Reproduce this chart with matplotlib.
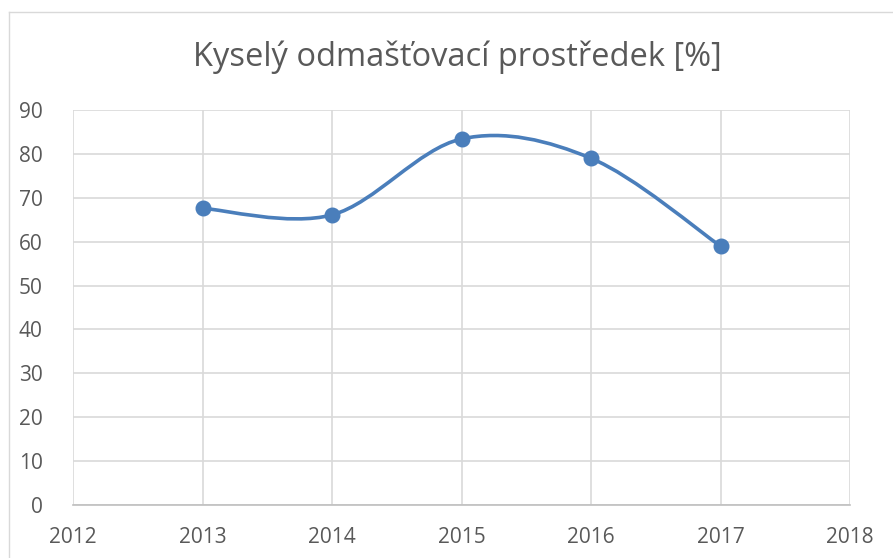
import matplotlib
matplotlib.use('Agg')
import matplotlib.pyplot as plt
from matplotlib.path import Path
from matplotlib.patches import PathPatch
from matplotlib import font_manager

# Data
years = [2013, 2014, 2015, 2016, 2017]
values = [67.6, 66.1, 83.4, 79.0, 59.0]
x_ticks = [2012, 2013, 2014, 2015, 2016, 2017, 2018]
y_ticks = [0, 10, 20, 30, 40, 50, 60, 70, 80, 90]
title = 'Kyselý odmašťovací prostředek [%]'

available = {f.name for f in font_manager.fontManager.ttflist}
font = 'Liberation Sans Narrow' if 'Liberation Sans Narrow' in available else 'Open Sans'
plt.rcParams['font.family'] = [font, 'DejaVu Sans']

line_color = '#4a7ebb'
text_color = '#595959'
grid_color = '#d9d9d9'

fig = plt.figure(figsize=(8.93, 5.58), dpi=100)
ax = fig.add_axes([73 / 893, 1 - 505 / 558, (850 - 73) / 893, (505 - 110) / 558])

# outer chart border (only left and top are visible in the crop)
fig.add_artist(plt.Line2D([8.7 / 893, 8.7 / 893], [0, 1 - 11.7 / 558],
                          transform=fig.transFigure, color=grid_color, lw=1))
fig.add_artist(plt.Line2D([8.7 / 893, 1], [1 - 11.7 / 558, 1 - 11.7 / 558],
                          transform=fig.transFigure, color=grid_color, lw=1))

# smooth line like Excel: cubic bezier segments with catmull-rom style control points
pts = list(zip(years, values))
verts = [pts[0]]
codes = [Path.MOVETO]
n = len(pts)
for i in range(n - 1):
    p0 = pts[max(i - 1, 0)]
    p1 = pts[i]
    p2 = pts[i + 1]
    p3 = pts[min(i + 2, n - 1)]
    c1 = (p1[0] + (p2[0] - p0[0]) / 6, p1[1] + (p2[1] - p0[1]) / 6)
    c2 = (p2[0] - (p3[0] - p1[0]) / 6, p2[1] - (p3[1] - p1[1]) / 6)
    verts += [c1, c2, p2]
    codes += [Path.CURVE4] * 3
ax.add_patch(PathPatch(Path(verts, codes), facecolor='none', edgecolor=line_color,
                       lw=2.6, capstyle='round', zorder=3))
ax.plot(years, values, linestyle='none', marker='o', markersize=10.5,
        color=line_color, zorder=4)

ax.set_xlim(2012, 2018)
ax.set_ylim(0, 90)
ax.set_xticks(x_ticks)
ax.set_yticks(y_ticks)
ax.grid(True, color=grid_color, lw=1.2)
ax.set_axisbelow(True)
for side in ['top', 'right', 'left']:
    ax.spines[side].set_visible(False)
ax.spines['bottom'].set_color('#bfbfbf')
ax.spines['bottom'].set_linewidth(1.2)
ax.tick_params(length=0, colors=text_color, labelsize=15)
ax.tick_params(axis='y', pad=22)
ax.tick_params(axis='x', pad=16)

fig.text(457 / 893, 1 - 57 / 558, title, ha='center', va='center',
         fontsize=23.5, color=text_color)

fig.savefig('out.png', dpi=100)
